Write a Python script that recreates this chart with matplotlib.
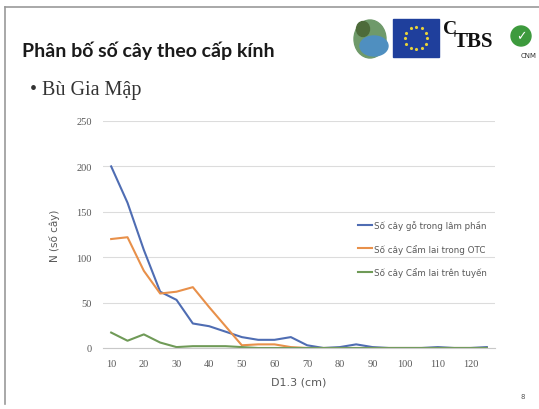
import matplotlib
matplotlib.use("Agg")
import matplotlib.pyplot as plt
from matplotlib.patches import Rectangle, Ellipse, Circle
import numpy as np

# Diameter classes (cm) and tree counts per class
dbh_classes = [10, 15, 20, 25, 30, 35, 40, 45, 50, 55, 60, 65,
               70, 75, 80, 85, 90, 95, 100, 105, 110, 115, 120, 125]
trees_stand = [200, 160, 108, 62, 53, 27, 24, 18, 12, 9, 9, 12,
               3, 0, 1, 4, 1, 0, 0, 0, 1, 0, 0, 1]
camlai_plot = [120, 122, 85, 60, 62, 67, 45, 24, 3, 4, 4, 1,
               0, 0, 0, 0, 0, 0, 0, 0, 0, 0, 0, 0]
camlai_line = [17, 8, 15, 6, 1, 2, 2, 2, 1, 0, 0, 0,
               0, 0, 0, 0, 0, 0, 0, 0, 0, 0, 0, 0]
series_names = ["Số cây gỗ trong lâm phần",
                "Số cây Cẩm lai trong OTC",
                "Số cây Cẩm lai trên tuyến"]
series_colors = ["#4f6db3", "#e8904a", "#6f9a57"]
y_ticks = [0, 50, 100, 150, 200, 250]

W, H, DPI = 539, 410, 100
fig = plt.figure(figsize=(W / DPI, H / DPI), dpi=DPI)
fig.patch.set_facecolor("white")

# Slide overlay in pixel coordinates
ov = fig.add_axes([0, 0, 1, 1])
ov.set_xlim(0, W)
ov.set_ylim(H, 0)
ov.axis("off")
ov.plot([5, 539], [8, 8], color="#9a9a9a", lw=1.2)
ov.plot([5, 5], [8, 405], color="#9a9a9a", lw=1.2)

ov.text(22, 51, "Phân bố số cây theo cấp kính", family="Lato",
        weight="bold", fontsize=14, color="#1a1a1a", va="center", ha="left")
ov.text(30, 91, "• Bù Gia Mập", family="Liberation Serif", fontsize=14.5,
        color="#333333", va="center", ha="left")
ov.text(523, 397, "8", fontsize=5, color="#555555", ha="center", va="center")

# Partner logos
ov.add_patch(Ellipse((370, 40), 32, 38, color="#6f9a6a"))
ov.add_patch(Ellipse((374, 47), 28, 20, color="#4f8fc0"))
ov.add_patch(Ellipse((363, 30), 13, 15, color="#4d6b3a"))
ov.add_patch(Rectangle((393, 20), 46, 38, color="#1f3f9c"))
ang = np.linspace(0, 2 * np.pi, 12, endpoint=False)
ov.scatter(416 + 11 * np.cos(ang), 39 + 11 * np.sin(ang), s=2,
           color="#e8d23a", marker="*", zorder=3)
ov.text(443, 30, "C", family="Liberation Serif", weight="bold", fontsize=14,
        color="#111111", va="center")
ov.text(454, 42, "TBS", family="Liberation Serif", weight="bold", fontsize=15,
        color="#111111", va="center")
ov.add_patch(Circle((521, 37), 10, color="#3d9a3d"))
ov.text(521, 37, "✓", fontsize=9, color="white", ha="center", va="center",
        family="DejaVu Sans", weight="bold")
ov.text(529, 56, "CNM", fontsize=5, color="#333333", ha="center", va="center")

# Chart
ax = fig.add_axes([103 / W, 1 - 349 / H, (495 - 103) / W, (349 - 122) / H])
x = np.arange(len(dbh_classes))
for vals, name, col in zip([trees_stand, camlai_plot, camlai_line],
                           series_names, series_colors):
    ax.plot(x, vals, color=col, lw=1.5, label=name, solid_joinstyle="round")

ax.set_xlim(-0.5, len(dbh_classes) - 0.5)
ax.set_ylim(0, 250)
ax.set_yticks(y_ticks)
ax.set_yticklabels([str(v) for v in y_ticks])
ax.set_xticks(x[::2])
ax.set_xticklabels([str(v) for v in dbh_classes[::2]])
ax.tick_params(length=0, labelsize=7.5, labelcolor="#595959", pad=8)
for lab in ax.get_xticklabels() + ax.get_yticklabels():
    lab.set_family("Liberation Serif")
ax.grid(axis="y", color="#dcdcdc", lw=0.8)
ax.set_axisbelow(True)
for s in ["top", "right", "left"]:
    ax.spines[s].set_visible(False)
ax.spines["bottom"].set_color("#c8c8c8")
ax.set_ylabel("N (số cây)", fontsize=7.5, color="#595959", labelpad=12)
ax.set_xlabel("D1.3 (cm)", fontsize=8, color="#595959", labelpad=6)

leg = ax.legend(loc="upper right", bbox_to_anchor=(1.0, 0.6), frameon=False,
                fontsize=6.3, handlelength=1.6, handletextpad=0.3,
                labelspacing=1.6, labelcolor="#595959")

fig.savefig("out.png", dpi=DPI, facecolor="white")
